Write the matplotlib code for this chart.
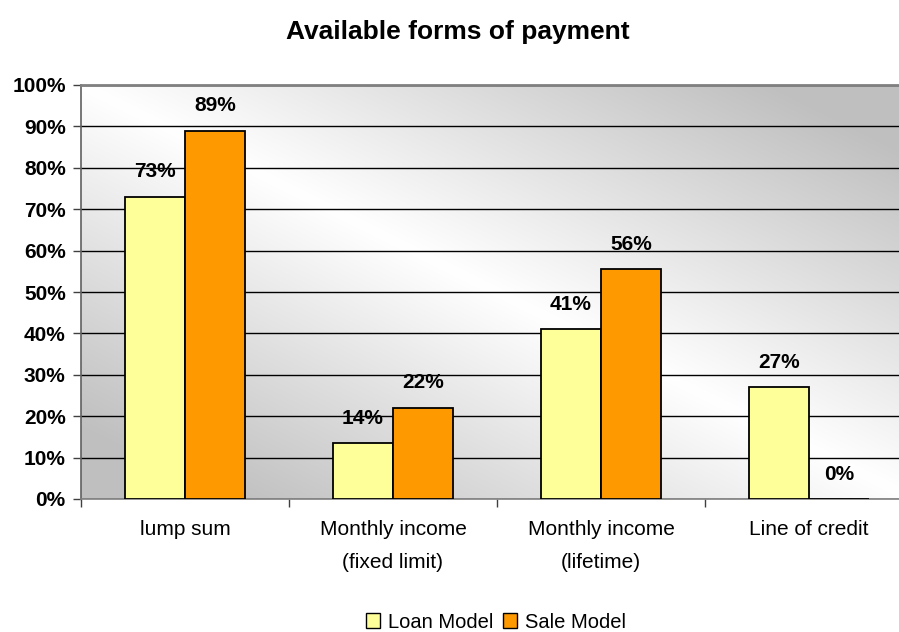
import numpy as np
import matplotlib
matplotlib.use("Agg")
import matplotlib.pyplot as plt
from matplotlib.patches import Patch

categories = ["lump sum", "Monthly income\n(fixed limit)", "Monthly income\n(lifetime)", "Line of credit"]
loan_values = [73, 13.5, 41, 27]
sale_values = [89, 22, 55.5, 0]
loan_labels = ["73%", "14%", "41%", "27%"]
sale_labels = ["89%", "22%", "56%", "0%"]
series_names = ["Loan Model", "Sale Model"]
yticks = [0, 10, 20, 30, 40, 50, 60, 70, 80, 90, 100]
ytick_labels = [f"{t}%" for t in yticks]

loan_color = "#FFFF99"
sale_color = "#FF9900"
font = "Liberation Sans"

W, H = 899, 632
fig = plt.figure(figsize=(W / 100, H / 100), dpi=100)
fig.patch.set_facecolor("white")
ax = fig.add_axes([81 / W, (H - 499) / H, 832 / W, 414 / H])

# gradient background
n = 300
u = np.linspace(0, 1, n)
v = np.linspace(1, 0, n)
U, V = np.meshgrid(u, v)
g = np.abs(U + V - 1)
lvl = 1.0 - (1.0 - 0.75) * np.clip(g * 1.2, 0, 1)
img = np.dstack([lvl, lvl, lvl])
ax.imshow(img, extent=[0, 1, 0, 1], transform=ax.transAxes, aspect="auto", zorder=0)

x = np.arange(len(categories))
w = 60 / 208
ax.bar(x - w / 2, loan_values, w, color=loan_color, edgecolor="black", linewidth=1.3, zorder=3)
ax.bar(x + w / 2, sale_values, w, color=sale_color, edgecolor="black", linewidth=1.3, zorder=3)

for xi, v_, lab in zip(x - w / 2, loan_values, loan_labels):
    ax.annotate(lab, (xi, v_), xytext=(0, 25), textcoords="offset pixels", ha="center", va="center",
                fontsize=15, fontweight="bold", family=font, zorder=5)
for xi, v_, lab in zip(x + w / 2, sale_values, sale_labels):
    ax.annotate(lab, (xi, v_), xytext=(0, 25), textcoords="offset pixels", ha="center", va="center",
                fontsize=15, fontweight="bold", family=font, zorder=5)

ax.set_xlim(-0.5, 3.5)
ax.set_ylim(0, 100)
ax.set_yticks(yticks)
ax.set_yticklabels(ytick_labels, fontsize=15, fontweight="bold", family=font)
ax.yaxis.grid(True, color="black", linewidth=1.0, zorder=1)
ax.set_axisbelow(True)

ax.set_xticks([-0.5, 0.5, 1.5, 2.5, 3.5])
ax.set_xticklabels([])
ax.set_xticks(x, minor=True)
ax.set_xticklabels(categories, minor=True, fontsize=15, family=font, linespacing=1.95)
ax.tick_params(axis="x", which="minor", length=0, pad=15)
ax.tick_params(axis="x", which="major", length=6, width=1, color="#404040", direction="out")
ax.tick_params(axis="y", length=6, width=1, color="#404040", direction="out", pad=5)

ax.spines["top"].set_color("#808080")
ax.spines["top"].set_linewidth(2)
ax.spines["right"].set_visible(False)
ax.spines["left"].set_color("#606060")
ax.spines["left"].set_linewidth(1.2)
ax.spines["bottom"].set_color("#808080")
ax.spines["bottom"].set_linewidth(1.2)

fig.text(458 / W, 1 - 32 / H, "Available forms of payment", ha="center", va="center",
         fontsize=19, fontweight="bold", family=font)

handles = [Patch(facecolor=loan_color, edgecolor="black", linewidth=1.0),
           Patch(facecolor=sale_color, edgecolor="black", linewidth=1.0)]
fig.legend(handles, series_names, loc="center", bbox_to_anchor=(496 / W, 1 - 622 / H),
           ncol=2, frameon=False, prop={"family": font, "size": 14.5},
           handlelength=0.7, handleheight=0.7, handletextpad=0.4, columnspacing=0.5)

fig.savefig("out.png", dpi=100)
